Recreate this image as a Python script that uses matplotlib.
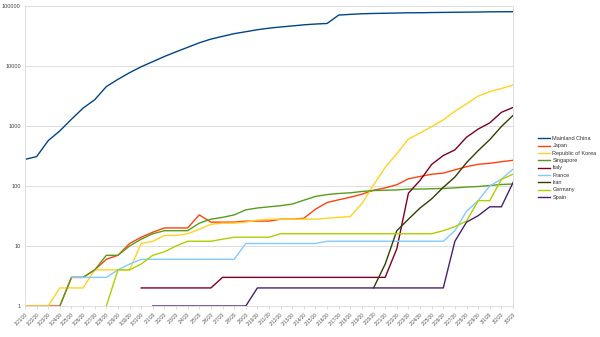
import numpy as np
import pandas as pd
import matplotlib
matplotlib.use("Agg")
import matplotlib.pyplot as plt
from matplotlib.ticker import FixedLocator, FixedFormatter

nan = np.nan

# confirmed cases per day, 1/21/20 .. 3/3/20
dates = pd.date_range("2020-01-21", "2020-03-03")
date_labels = [f"{d.month}/{d.day}/20" for d in dates]

china = [278, 309, 571, 830, 1297, 1985, 2741, 4537, 5997, 7736, 9720, 11821,
         14411, 17238, 20471, 24363, 28060, 31211, 34598, 37251, 40235, 42708,
         44730, 46550, 48548, 50054, 51174, 70635, 72528, 74280, 75101, 75733,
         76392, 77042, 77262, 77780, 78191, 78630, 78961, 79394, 79968, 80174,
         80304]
japan = [1, 1, 1, 1, 3, 3, 4, 6, 7, 11, 14, 17, 20, 20, 20, 33, 25, 25, 25,
         26, 26, 26, 28, 28, 29, 41, 53, 59, 65, 73, 85, 93, 105, 132, 144,
         157, 164, 186, 210, 230, 239, 254, 268]
korea = [1, 1, 1, 2, 2, 2, 4, 4, 4, 4, 11, 12, 15, 15, 16, 19, 23, 24, 24,
         25, 27, 28, 28, 28, 28, 28, 29, 30, 31, 51, 104, 204, 346, 602, 763,
         977, 1261, 1766, 2337, 3150, 3736, 4212, 4812]
singapore = [nan, nan, nan, 1, 3, 3, 4, 7, 7, 10, 13, 16, 18, 18, 18, 24, 28,
             30, 33, 40, 43, 45, 47, 50, 58, 67, 72, 75, 77, 81, 84, 85, 86,
             89, 89, 90, 91, 93, 96, 98, 102, 106, 108]
italy = [nan] * 10 + [2] * 7 + [3] * 15 + [9, 76, 124, 229, 322, 400, 650,
                                           888, 1128, 1689, 2036]
france = [nan] * 4 + [3, 3, 3, 3, 4, 5] + [6] * 9 + [11] * 7 + [12] * 11 + \
         [18, 38, 57, 100, 130, 191]
iran = [nan] * 30 + [2, 5, 18, 28, 43, 61, 95, 141, 245, 388, 593, 978, 1501]
germany = [nan] * 7 + [1, 4, 4, 5, 7, 8, 10, 12, 12, 12, 13, 14, 14, 14, 14] + \
          [16] * 14 + [18, 21, 26, 57, 57, 129, 157]
spain = [nan] * 11 + [1] * 9 + [2] * 17 + [12, 25, 32, 45, 45, 114]

names = ["Mainland China", "Japan", "Republic of Korea", "Singapore", "Italy",
         "France", "Iran", "Germany", "Spain"]
series = [china, japan, korea, singapore, italy, france, iran, germany, spain]
colors = ["#004586", "#ff420e", "#ffd320", "#579d1c", "#7e0021", "#83caff",
          "#314004", "#aecf00", "#4b1f6f"]

plt.rcParams["font.family"] = ["Liberation Sans", "DejaVu Sans"]

fig = plt.figure(figsize=(6, 3.37), dpi=100)
ax = fig.add_axes([25 / 600, 31 / 337, 488 / 600, 300 / 337])

x = np.arange(len(dates))
for name, vals, c in zip(names, series, colors):
    ax.plot(x, vals, color=c, lw=1.0, label=name)

ax.set_yscale("log")
ax.set_ylim(1, 100000)
ax.set_xlim(0, len(dates) - 1)

yt = [1, 10, 100, 1000, 10000, 100000]
ax.yaxis.set_major_locator(FixedLocator(yt))
ax.yaxis.set_major_formatter(FixedFormatter([str(v) for v in yt]))
ax.yaxis.set_minor_locator(FixedLocator([]))
ax.set_xticks(x)
ax.set_xticklabels(date_labels, rotation=45, ha="right", rotation_mode="anchor")

ax.grid(axis="y", color="#dddddd", lw=0.7)
ax.set_axisbelow(True)
ax.tick_params(axis="y", length=0, pad=3, labelsize=4, labelcolor="#444444")
ax.tick_params(axis="x", length=2, width=0.5, color="#cccccc", pad=2,
               labelsize=3.4, labelcolor="#555555")
for s in ["left", "right", "bottom"]:
    ax.spines[s].set_color("#dddddd")
    ax.spines[s].set_linewidth(0.7)
ax.spines["top"].set_visible(False)

fig.legend(loc="center left", bbox_to_anchor=(533 / 600, 1 - 168 / 337),
           frameon=False, fontsize=4, handlelength=2.2, handletextpad=0.4,
           labelspacing=0.42, labelcolor="#333333")

fig.savefig("out.png", dpi=100)
